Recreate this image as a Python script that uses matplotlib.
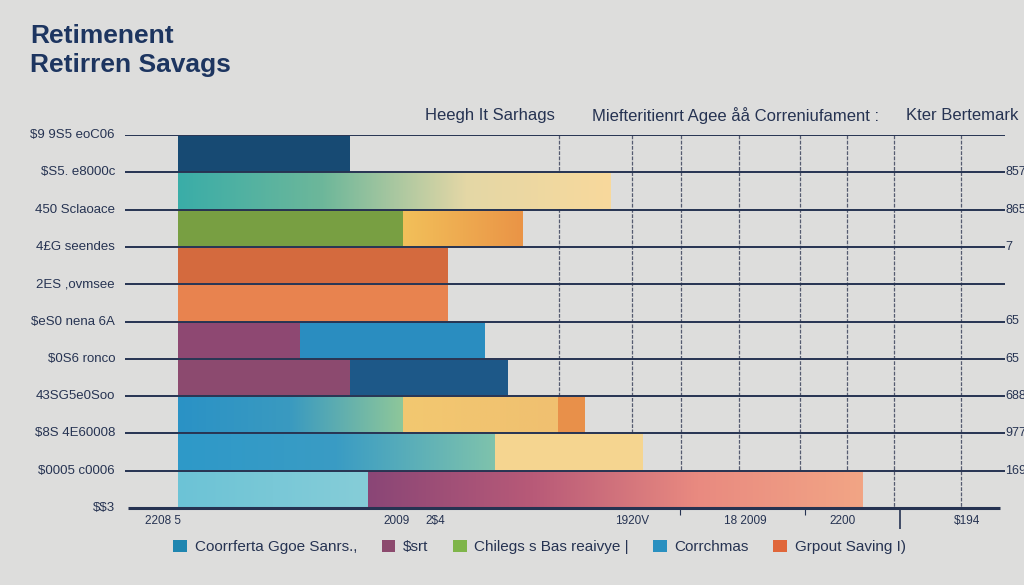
import numpy as np
import matplotlib
matplotlib.use("Agg")
import matplotlib.pyplot as plt
from matplotlib.colors import LinearSegmentedColormap
from matplotlib.patches import Patch
import matplotlib.transforms as mtransforms

# Daten (Tausend Dollar pro Segment, von oben nach unten)
first_seg = [69, 173, 90, 108, 108, 49, 69, 90, 127, 76]
second_seg = [0, 0, 48, 0, 0, 74, 63, 62, 59, 198]
third_seg = [0, 0, 0, 0, 0, 0, 0, 11, 0, 0]

left_labels = ["$9 9S5 eoC06", "$S5. e8000c", "450 Sclaoace", "4£G seendes",
               "2ES ,ovmsee", "$eS0 nena 6A", "$0S6 ronco", "43SG5e0Soo",
               "$8S 4E60008", "$0005 c0006", "$$3"]
right_labels = {1: "857", 2: "865", 3: "7", 5: "65", 6: "65", 7: "688", 8: "977", 9: "169"}
grid_x = [152.6, 181.8, 201.4, 224.6, 249, 267.8, 286.6, 313.4]
bottom_ticks = [-5.8, 87.5, 103, 182, 227, 266, 316]
bottom_labels = ["2208 5", "2009", "2$4", "1920V", "18 2009", "2200", "$194"]
headers = ["Heegh It Sarhags", "Miefteritienrt Agee åå Correniufament :", "Kter Bertemark"]
header_x = [125, 223, 314]
legend_labels = ["Coorrferta Ggoe Sanrs.,", "$srt", "Chilegs s Bas reaivye |",
                 "Corrchmas", "Grpout Saving I)"]
legend_colors = ["#1f86b0", "#8c4a6e", "#7fb54a", "#2a90c0", "#e0663a"]

# Farben der Segmente (Verlauf von links nach rechts)
seg1_colors = [["#174a73"], ["#3aada8", "#6db79a", "#e4d7a6", "#f8d99c"], ["#789f42"],
               ["#d46a3e"], ["#e8834f"], ["#8e4872"], ["#8c4a6f"],
               ["#2a92c6", "#3a9ac0", "#8ec79a"], ["#2e99c9", "#3a9cc4", "#7fc3ac"],
               ["#6cc3d6", "#86cdd8"]]
seg2_colors = [None, None, ["#f2c05a", "#ea9446"], None, None, ["#2a8dc0"], ["#1d5888"],
               ["#f3c870", "#f0c070"], ["#f5d590"], ["#8a4676", "#b85a78", "#e98a80", "#f2a585"]]
seg3_colors = [None] * 7 + [["#e8904a"]] + [None, None]

navy = "#263352"
plt.rcParams['font.family'] = ['Liberation Sans', 'DejaVu Sans']
plt.rcParams['text.parse_math'] = False

fig = plt.figure(figsize=(10.24, 5.85), dpi=100)
fig.patch.set_facecolor("#dddddc")
ax = fig.add_axes([120 / 1024, 77 / 585, 890 / 1024, 373 / 585])
ax.set_facecolor("none")
ax.set_xlim(-23, 333)
ax.set_ylim(9.5, -0.5)
ax.axis("off")


# Balken mit horizontalem Farbverlauf
def grad_bar(y, left, width, colors, h=0.96):
    if width <= 0 or colors is None:
        return
    patch = ax.barh(y, width, left=left, height=h, color="none", linewidth=0, zorder=2)[0]
    if len(colors) == 1:
        patch.set_facecolor(colors[0])
        return
    cmap = LinearSegmentedColormap.from_list("g", colors)
    grad = np.linspace(0, 1, 256).reshape(1, -1)
    im = ax.imshow(grad, cmap=cmap, aspect="auto", zorder=2,
                   extent=[left, left + width, y + h / 2, y - h / 2])
    im.set_clip_path(patch)


for i in range(len(first_seg)):
    grad_bar(i, 0, first_seg[i], seg1_colors[i])
    grad_bar(i, first_seg[i], second_seg[i], seg2_colors[i])
    grad_bar(i, first_seg[i] + second_seg[i], third_seg[i], seg3_colors[i])

ax.set_xlim(-23, 333)
ax.set_ylim(9.5, -0.5)

# Gitter
ax.vlines(grid_x, -0.5, 9.5, colors="#555b70", linewidth=0.9,
          linestyles=(0, (3, 1.2)), zorder=1)
bounds = np.arange(-0.5, 9.6, 1)
ax.hlines(bounds[:-1], -21, 331, colors=navy, linewidth=1.4, zorder=3)
ax.hlines(bounds[-1], -20, 329, colors=navy, linewidth=2.2, zorder=3, clip_on=False)

for b, t in zip(bounds, left_labels):
    ax.text(-25, b, t, ha="right", va="center", fontsize=9.5, color=navy)
for k, t in right_labels.items():
    ax.text(331, bounds[k], t, ha="left", va="center", fontsize=9, color=navy, clip_on=False)

trans = mtransforms.blended_transform_factory(ax.transData, ax.transAxes)
for x, t in zip(bottom_ticks, bottom_labels):
    ax.text(x, -0.035, t, ha="center", va="center", fontsize=8.5, color=navy, transform=trans)
ax.vlines([201, 251], -0.02, 0, colors=navy, linewidth=0.8, transform=trans, clip_on=False)
ax.vlines([289], -0.055, 0, colors=navy, linewidth=1.2, transform=trans, clip_on=False)

for x, t in zip(header_x, headers):
    ax.text(x, 1.052, t, ha="center", va="center", fontsize=12, color=navy, transform=trans)

fig.text(30 / 1024, 1 - 24 / 585, "Retimenent\nRetirren Savags", ha="left", va="top",
         fontsize=19, fontweight="bold", color="#1d3560", linespacing=1.25)

handles = [Patch(facecolor=c) for c in legend_colors]
fig.legend(handles, legend_labels, loc="center", bbox_to_anchor=(0.527, 0.065), ncol=5,
           frameon=False, fontsize=11, handlelength=0.9, handleheight=0.9,
           handletextpad=0.5, columnspacing=1.6, labelcolor=navy)

fig.savefig("out.png", dpi=100, facecolor=fig.get_facecolor())
